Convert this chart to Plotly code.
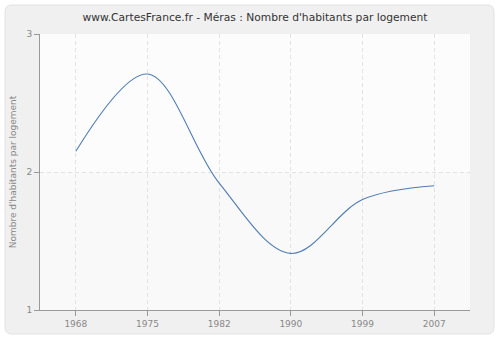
import plotly.graph_objects as go

years = ["1968", "1975", "1982", "1990", "1999", "2007"]
values = [2.15, 2.71, 1.92, 1.41, 1.80, 1.90]
y_ticks = [1, 2, 3]

W, H = 500, 340
L, R, T, B = 40, 30, 34, 30
pw, ph = W - L - R, H - T - B

def px(x):
    return (x - L) / pw

def py(y):
    return (H - B - y) / ph

def rounded(x0, y0, x1, y1, r):
    X0, X1 = px(x0), px(x1)
    Y0, Y1 = py(y0), py(y1)
    rx, ry = r / pw, r / ph
    return (f"M {X0+rx},{Y0} L {X1-rx},{Y0} Q {X1},{Y0} {X1},{Y0-ry} "
            f"L {X1},{Y1+ry} Q {X1},{Y1} {X1-rx},{Y1} L {X0+rx},{Y1} "
            f"Q {X0},{Y1} {X0},{Y1+ry} L {X0},{Y0-ry} Q {X0},{Y0} {X0+rx},{Y0} Z")

fig = go.Figure()
fig.add_trace(go.Scatter(
    x=years, y=values, mode="lines",
    line=dict(color="#4f7cb3", width=1.1, shape="spline", smoothing=1.0),
    hoverinfo="skip", showlegend=False,
))

shapes = [
    dict(type="path", xref="paper", yref="paper", path=rounded(5, 5, 494, 334, 7),
         fillcolor="#f0f0f0", line=dict(color="#e2e2e2", width=1), layer="below"),
    dict(type="rect", xref="paper", yref="paper", x0=0, x1=1, y0=0, y1=1,
         fillcolor="#f9f9f9", line=dict(width=0), layer="below"),
    dict(type="rect", xref="paper", yref="y", x0=0, x1=1, y0=2, y1=3,
         fillcolor="#fcfcfc", line=dict(width=0), layer="below"),
]

font = "DejaVu Sans"
grid = dict(showgrid=True, gridcolor="#e2e2e2", griddash="4px,3px", gridwidth=1,
            showline=True, linecolor="#999999", linewidth=1,
            ticks="outside", ticklen=5, tickcolor="#999999",
            tickfont=dict(family=font, size=9, color="#888888"),
            zeroline=False, fixedrange=True)

fig.update_layout(
    width=W, height=H,
    margin=dict(l=L, r=R, t=T, b=B),
    paper_bgcolor="white",
    plot_bgcolor="rgba(0,0,0,0)",
    shapes=shapes,
    title=dict(text="www.CartesFrance.fr - Méras : Nombre d'habitants par logement",
               x=0.5, xref="paper", xanchor="center", y=1 - 17 / H, yanchor="middle",
               font=dict(family=font, size=10.7, color="#333333")),
    xaxis=dict(type="category", range=[-0.5, len(years) - 0.5], **grid),
    yaxis=dict(
        range=[1, 3], tickvals=y_ticks, ticktext=[str(v) for v in y_ticks],
        title=dict(text="Nombre d'habitants par logement", standoff=8,
                   font=dict(family=font, size=9, color="#888888")),
        **grid,
    ),
)

fig.write_html("out.html")
